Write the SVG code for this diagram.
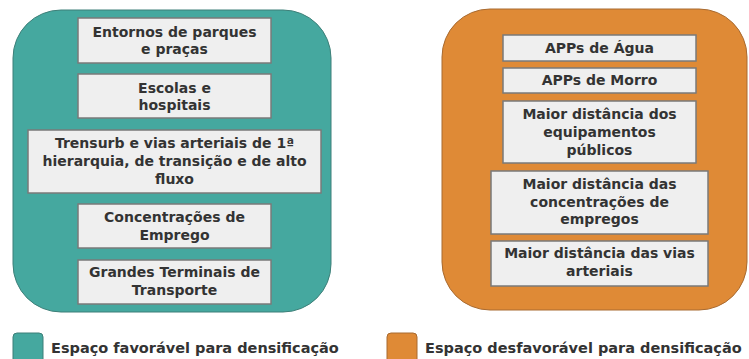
<svg xmlns="http://www.w3.org/2000/svg" width="749" height="359" viewBox="0 0 749 359">
<style>
.panel-g{fill:#45a89f;stroke:#3d7f78;stroke-width:1}
.panel-o{fill:#df8a36;stroke:#a86a30;stroke-width:1}
.box{fill:#efefef;stroke:#7a7a7a;stroke-width:1.5}
.t{font-family:"DejaVu Sans",sans-serif;font-weight:bold;font-size:14px;fill:#333333;text-anchor:middle}
.lg{font-family:"DejaVu Sans",sans-serif;font-weight:bold;font-size:14.5px;fill:#333333}
</style>
<rect width="749" height="359" fill="#ffffff"/>
<g id="panel-favoravel">
<rect class="panel-g" x="13" y="10" width="318" height="302" rx="48" ry="48"/>
</g>
<g id="panel-desfavoravel">
<rect class="panel-o" x="442" y="9" width="305" height="301" rx="48" ry="48"/>
</g>
<g id="connectors"></g>
<g id="n1"><rect class="box" x="78" y="18" width="193" height="45"/><text class="t" x="174.5" y="37">Entornos de parques</text><text class="t" x="174.5" y="54">e praças</text></g>
<g id="n2"><rect class="box" x="78" y="74" width="193" height="44"/><text class="t" x="174.5" y="93">Escolas e</text><text class="t" x="174.5" y="110">hospitais</text></g>
<g id="n3"><rect class="box" x="28" y="130" width="293" height="63"/><text class="t" x="174.5" y="148">Trensurb e vias arteriais de 1ª</text><text class="t" x="174.5" y="166">hierarquia, de transição e de alto</text><text class="t" x="174.5" y="184">fluxo</text></g>
<g id="n4"><rect class="box" x="78" y="204" width="193" height="44"/><text class="t" x="174.5" y="222">Concentrações de</text><text class="t" x="174.5" y="240">Emprego</text></g>
<g id="n5"><rect class="box" x="78" y="260" width="193" height="44"/><text class="t" x="174.5" y="277">Grandes Terminais de</text><text class="t" x="174.5" y="295">Transporte</text></g>
<g id="m1"><rect class="box" x="503" y="35" width="193" height="26"/><text class="t" x="599.5" y="53">APPs de Água</text></g>
<g id="m2"><rect class="box" x="503" y="68" width="193" height="25"/><text class="t" x="599.5" y="85">APPs de Morro</text></g>
<g id="m3"><rect class="box" x="503" y="101" width="193" height="62"/><text class="t" x="599.5" y="119">Maior distância dos</text><text class="t" x="599.5" y="137">equipamentos</text><text class="t" x="599.5" y="155">públicos</text></g>
<g id="m4"><rect class="box" x="491" y="171" width="217" height="63"/><text class="t" x="599.5" y="189">Maior distância das</text><text class="t" x="599.5" y="207">concentrações de</text><text class="t" x="599.5" y="224">empregos</text></g>
<g id="m5"><rect class="box" x="491" y="241" width="217" height="45"/><text class="t" x="599.5" y="258">Maior distância das vias</text><text class="t" x="599.5" y="276">arteriais</text></g>
<g id="legend-favoravel"><rect class="panel-g" x="13" y="333" width="30" height="34" rx="4"/><text class="lg" x="51" y="353">Espaço favorável para densificação</text></g>
<g id="legend-desfavoravel"><rect class="panel-o" x="387" y="333" width="30" height="34" rx="4"/><text class="lg" x="425" y="353">Espaço desfavorável para densificação</text></g>
</svg>
